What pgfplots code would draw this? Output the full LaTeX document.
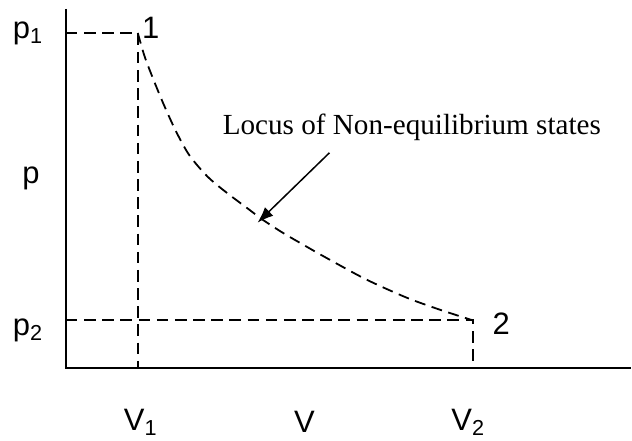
\documentclass[border=0pt]{standalone}
\usepackage{pgfplots}
\pgfplotsset{compat=1.18}
\usepackage{fontspec}
\setmainfont{Liberation Serif}
\newfontfamily\arial{Liberation Sans}
\usetikzlibrary{arrows.meta}
\tikzset{
  lab/.style={font=\arial\fontsize{15.5}{18}\selectfont, inner sep=0pt, anchor=center},
  dsh/.style={black, line width=1pt, dash pattern=on 5.8pt off 3.3pt}
}
\begin{document}
\begin{tikzpicture}
\begin{axis}[
  width=316pt, height=220.5pt, scale only axis,
  xmin=0, xmax=632, ymin=0, ymax=441,
  hide axis, clip=false
]
% bounding frame (invisible)
\addplot[draw=none] coordinates {(0,0) (632,441)};
% axes
\addplot[black, line width=1pt] coordinates {(66,432) (66,72) (632,72)};
% guide lines
\addplot[dsh] coordinates {(66,408) (138,408) (138,72)};
\addplot[dsh] coordinates {(66,120) (474,120) (474,72)};
% process curve
\addplot[black, line width=0.9pt, dash pattern=on 5.5pt off 3.3pt, smooth, tension=0.5] coordinates {
 (138,408) (145,384) (155,358) (165,334) (177,308) (190,285) (208,264)
 (227,248) (247,233) (263,221) (283,208) (307,194) (330,181) (367,161)
 (407,143) (440,131) (474,120)};
% arrow
\addplot[black, line width=0.75pt, -{Latex[length=8pt,width=6pt]}] coordinates {(330,288) (258,218)};
% labels
\node[lab] at (axis cs:28,408) {p\textsubscript{1}};
\node[lab] at (axis cs:31,262) {p};
\node[lab] at (axis cs:28,110) {p\textsubscript{2}};
\node[lab] at (axis cs:151,413) {1};
\node[lab] at (axis cs:502,117) {2};
\node[lab] at (axis cs:141,18) {V\textsubscript{1}};
\node[lab] at (axis cs:305,18) {V};
\node[lab] at (axis cs:469,18) {V\textsubscript{2}};
\node[font=\fontsize{14.6}{18}\selectfont, inner sep=0pt, anchor=base] at (axis cs:412.5,306) {Locus of Non-equilibrium states};
\end{axis}
\end{tikzpicture}
\end{document}
